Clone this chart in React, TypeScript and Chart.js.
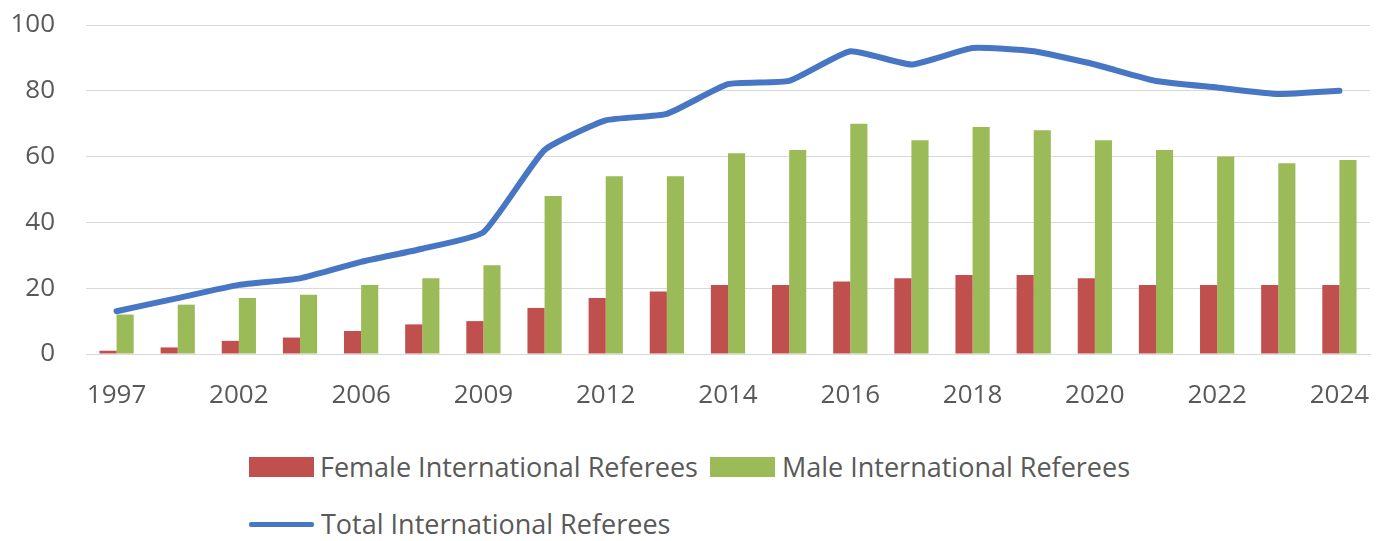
import React, { useEffect, useRef } from "react";
import { Chart, registerables } from "chart.js";

Chart.register(...registerables);

const categories = ["1997", "2000", "2002", "2004", "2006", "2008", "2009", "2010", "2012", "2013", "2014", "2015", "2016", "2017", "2018", "2019", "2020", "2021", "2022", "2023", "2024"];
const femaleReferees = [1, 2, 4, 5, 7, 9, 10, 14, 17, 19, 21, 21, 22, 23, 24, 24, 23, 21, 21, 21, 21];
const maleReferees = [12, 15, 17, 18, 21, 23, 27, 48, 54, 54, 61, 62, 70, 65, 69, 68, 65, 62, 60, 58, 59];
const totalReferees = [13, 17, 21, 23, 28, 32, 37, 62, 71, 73, 82, 83, 92, 88, 93, 92, 88, 83, 81, 79, 80];
const yTickValues = [0, 20, 40, 60, 80, 100];
const seriesNames = ["Female International Referees", "Male International Referees", "Total International Referees"];
const seriesColors = ["#c0504d", "#9bbb59", "#4776c4"];

const FONT = "'Open Sans', sans-serif";
const TEXT = "#595959";

export default function App() {
  const ref = useRef<HTMLCanvasElement | null>(null);

  useEffect(() => {
    if (!ref.current) return;
    const chart = new Chart(ref.current, {
      type: "bar",
      data: {
        labels: categories,
        datasets: [
          {
            type: "line",
            label: seriesNames[2],
            data: totalReferees,
            borderColor: seriesColors[2],
            backgroundColor: seriesColors[2],
            borderWidth: 6,
            pointRadius: 0,
            tension: 0.15,
            borderCapStyle: "round",
            borderJoinStyle: "round",
            order: 0,
          } as any,
          {
            type: "bar",
            label: seriesNames[0],
            data: femaleReferees,
            backgroundColor: seriesColors[0],
            categoryPercentage: 0.56,
            barPercentage: 1,
            order: 1,
          },
          {
            type: "bar",
            label: seriesNames[1],
            data: maleReferees,
            backgroundColor: seriesColors[1],
            categoryPercentage: 0.56,
            barPercentage: 1,
            order: 1,
          },
        ],
      },
      options: {
        animation: false,
        responsive: true,
        maintainAspectRatio: false,
        layout: { padding: { top: 17, left: 0, right: 8, bottom: 8 } },
        plugins: {
          legend: { display: false },
          tooltip: { enabled: false },
        },
        scales: {
          x: {
            offset: true,
            grid: { display: false, drawTicks: false },
            border: { display: true, color: "#d9d9d9", width: 1 },
            ticks: {
              autoSkip: false,
              maxRotation: 0,
              padding: 26,
              color: TEXT,
              font: { family: FONT, size: 26 },
              callback: (_v: any, i: number) => (i % 2 === 0 ? categories[i] : ""),
            },
            afterFit: (scale: any) => {
              scale.height = 56;
              scale.paddingLeft = 0;
              scale.paddingRight = 0;
            },
          },
          y: {
            min: yTickValues[0],
            max: yTickValues[yTickValues.length - 1],
            afterBuildTicks: (axis: any) => {
              axis.ticks = yTickValues.map((v) => ({ value: v }));
            },
            grid: { color: "#d9d9d9", lineWidth: 1, drawTicks: false },
            border: { display: false },
            ticks: {
              padding: 31,
              color: TEXT,
              font: { family: FONT, size: 26 },
            },
            afterFit: (scale: any) => {
              scale.width = 78;
              scale.paddingTop = 0;
              scale.paddingBottom = 0;
            },
          },
        },
      },
    });
    return () => chart.destroy();
  }, []);

  const legendText: React.CSSProperties = {
    fontFamily: FONT,
    fontSize: 27,
    color: TEXT,
    lineHeight: "30px",
    whiteSpace: "nowrap",
  };

  return (
    <div style={{ width: 1370 }}>
      <div style={{ position: "relative", height: 410, width: 1370 }}>
        <canvas ref={ref} />
      </div>
      <div style={{ paddingLeft: 241, marginTop: 34 }}>
        <div style={{ display: "flex", alignItems: "center", height: 30 }}>
          <span style={{ width: 65, height: 20, background: seriesColors[0], marginRight: 6 }} />
          <span style={legendText}>{seriesNames[0]}</span>
          <span style={{ width: 65, height: 20, background: seriesColors[1], marginLeft: 12, marginRight: 7 }} />
          <span style={legendText}>{seriesNames[1]}</span>
        </div>
        <div style={{ display: "flex", alignItems: "center", height: 30, marginTop: 27 }}>
          <span style={{ width: 65, height: 5, background: seriesColors[2], marginRight: 7, borderRadius: 2 }} />
          <span style={legendText}>{seriesNames[2]}</span>
        </div>
      </div>
    </div>
  );
}
